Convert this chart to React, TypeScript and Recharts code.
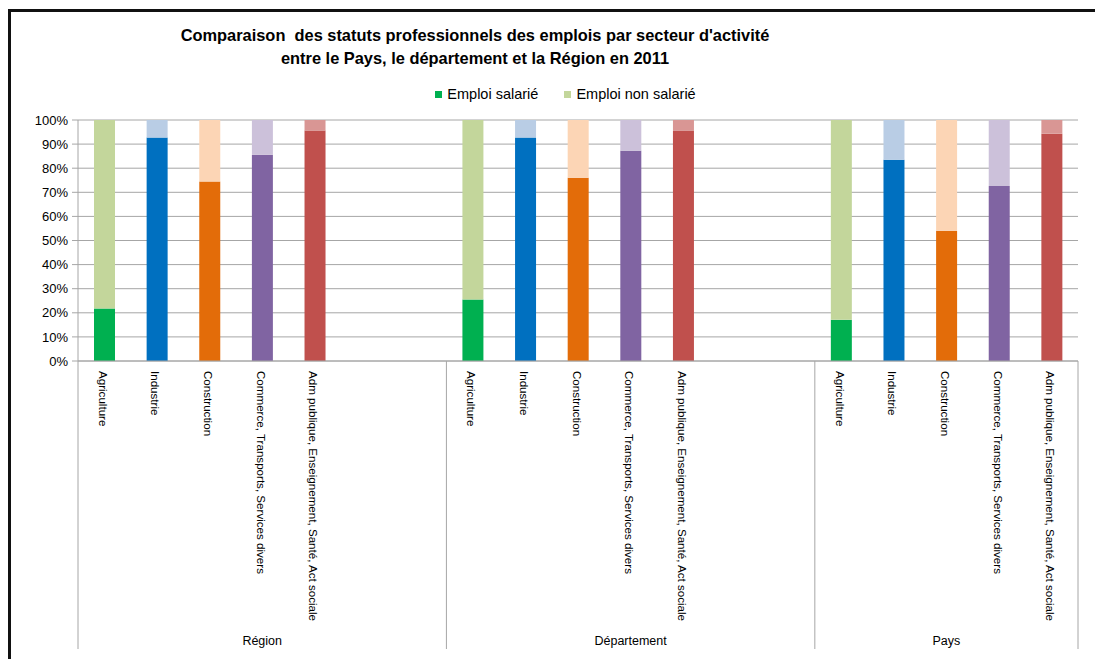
import React from 'react';
import { BarChart, Bar, XAxis, YAxis, CartesianGrid, Cell, Legend } from 'recharts';

const groups = ['Région', 'Département', 'Pays'];
const sectors = [
  'Agriculture',
  'Industrie',
  'Construction',
  'Commerce, Transports, Services divers',
  'Adm publique, Enseignement, Santé, Act sociale',
];
// empty slots left after each group on the axis
const emptySlots = [2, 2, 0];

const salarieRegion = [21.8, 92.7, 74.5, 85.6, 95.6];
const nonSalarieRegion = [78.2, 7.3, 25.5, 14.4, 4.4];
const salarieDepartement = [25.5, 92.7, 76.0, 87.2, 95.6];
const nonSalarieDepartement = [74.5, 7.3, 24.0, 12.8, 4.4];
const salariePays = [17.1, 83.5, 54.0, 72.6, 94.3];
const nonSalariePays = [82.9, 16.5, 46.0, 27.4, 5.7];

const yTicks = [0, 10, 20, 30, 40, 50, 60, 70, 80, 90, 100];

const darkColors = ['#00B050', '#0070C0', '#E36C09', '#8064A2', '#C0504D'];
const lightColors = ['#C3D69B', '#B9CDE5', '#FCD5B5', '#CCC1DA', '#D99694'];

const legendItems = [
  { label: 'Emploi salarié', color: '#00B050' },
  { label: 'Emploi non salarié', color: '#C3D69B' },
];

const salarieByGroup = [salarieRegion, salarieDepartement, salariePays];
const nonSalarieByGroup = [nonSalarieRegion, nonSalarieDepartement, nonSalariePays];

type Row = {
  id: string;
  group: string;
  gi: number;
  si: number;
  sector: string;
  salarie: number | null;
  nonSalarie: number | null;
  groupStart: boolean;
  groupSize: number;
};

const rows: Row[] = [];
groups.forEach((g, gi) => {
  const size = sectors.length + emptySlots[gi];
  sectors.forEach((s, si) => {
    rows.push({
      id: `${gi}-${si}`,
      group: g,
      gi,
      si,
      sector: s,
      salarie: salarieByGroup[gi][si],
      nonSalarie: nonSalarieByGroup[gi][si],
      groupStart: si === 0,
      groupSize: size,
    });
  });
  for (let k = 0; k < emptySlots[gi]; k++) {
    rows.push({
      id: `${gi}-e${k}`,
      group: g,
      gi,
      si: -1,
      sector: '',
      salarie: null,
      nonSalarie: null,
      groupStart: false,
      groupSize: size,
    });
  }
});

const FONT = "'Liberation Sans Narrow', 'Liberation Sans', Arial, sans-serif";
const AXIS_GRAY = '#A6A6A6';

const CategoryTick = (props: any) => {
  const { x, y, payload, index } = props;
  const row = rows[index] ?? rows.find((r) => r.id === payload.value);
  if (!row) return null;
  const half = payload.offset || 26.3;
  const isLast = index === rows.length - 1;
  return (
    <g>
      {row.sector && (
        <text
          transform={`translate(${x - 1},${y + 10}) rotate(90)`}
          textAnchor="start"
          dominantBaseline="central"
          fontSize={11.6}
          fontFamily={FONT}
          fill="#000"
        >
          {row.sector}
        </text>
      )}
      {row.groupStart && (
        <>
          <line x1={x - half} x2={x - half} y1={y} y2={y + 288} stroke={AXIS_GRAY} strokeWidth={1} />
          <text
            x={x - half + row.groupSize * half}
            y={y + 284}
            textAnchor="middle"
            fontSize={12.5}
            fontFamily={FONT}
            fill="#000"
          >
            {row.group}
          </text>
        </>
      )}
      {isLast && (
        <line x1={x + half} x2={x + half} y1={y} y2={y + 288} stroke={AXIS_GRAY} strokeWidth={1} />
      )}
    </g>
  );
};

const LegendContent = () => (
  <div
    style={{
      height: 20,
      display: 'flex',
      justifyContent: 'center',
      alignItems: 'center',
      fontFamily: FONT,
      fontSize: 14.5,
      color: '#000',
      paddingLeft: 36,
    }}
  >
    {legendItems.map((it, i) => (
      <span key={it.label} style={{ display: 'flex', alignItems: 'center', marginLeft: i ? 26 : 0 }}>
        <span style={{ width: 7, height: 7, background: it.color, display: 'inline-block', marginRight: 5 }} />
        {it.label}
      </span>
    ))}
  </div>
);

export default function App() {
  return (
    <div style={{ position: 'absolute', left: 0, top: 0, width: 1095, height: 659, background: '#fff', overflow: 'hidden' }}>
      <div
        style={{
          position: 'absolute',
          left: 8,
          top: 9,
          right: -10,
          bottom: -10,
          borderTop: '3px solid #111',
          borderLeft: '3px solid #111',
        }}
      />
      <div
        style={{
          position: 'absolute',
          left: 0,
          width: 950,
          top: 24,
          textAlign: 'center',
          fontFamily: FONT,
          fontWeight: 'bold',
          fontSize: 16.4,
          lineHeight: '23px',
          color: '#000',
        }}
      >
        Comparaison&nbsp; des statuts professionnels des emplois par secteur d'activité
        <br />
        entre le Pays, le département et la Région en 2011
      </div>
      <BarChart
        width={1095}
        height={659}
        data={rows}
        margin={{ top: 100, right: 17, bottom: 0, left: 8 }}
        barSize={21}
        style={{ position: 'absolute', left: 0, top: 0 }}
      >
        <CartesianGrid vertical={false} stroke={AXIS_GRAY} />
        <Legend
          verticalAlign="top"
          content={<LegendContent />}
          wrapperStyle={{ top: 84, left: 0, width: 1095 }}
        />
        <XAxis
          dataKey="id"
          type="category"
          interval={0}
          height={298}
          tickLine={false}
          tickSize={0}
          tickMargin={0}
          axisLine={{ stroke: AXIS_GRAY }}
          tick={<CategoryTick />}
        />
        <YAxis
          domain={[0, 100]}
          ticks={yTicks}
          width={70}
          interval={0}
          tickFormatter={(v: number) => `${v}%`}
          axisLine={{ stroke: AXIS_GRAY }}
          tickLine={{ stroke: AXIS_GRAY }}
          tickSize={6}
          tickMargin={4}
          tick={{ fontSize: 13, fontFamily: FONT, fill: '#000' }}
        />
        <Bar dataKey="salarie" stackId="a" isAnimationActive={false}>
          {rows.map((r) => (
            <Cell key={r.id} fill={r.si >= 0 ? darkColors[r.si] : 'none'} />
          ))}
        </Bar>
        <Bar dataKey="nonSalarie" stackId="a" isAnimationActive={false}>
          {rows.map((r) => (
            <Cell key={r.id} fill={r.si >= 0 ? lightColors[r.si] : 'none'} />
          ))}
        </Bar>
      </BarChart>
    </div>
  );
}
